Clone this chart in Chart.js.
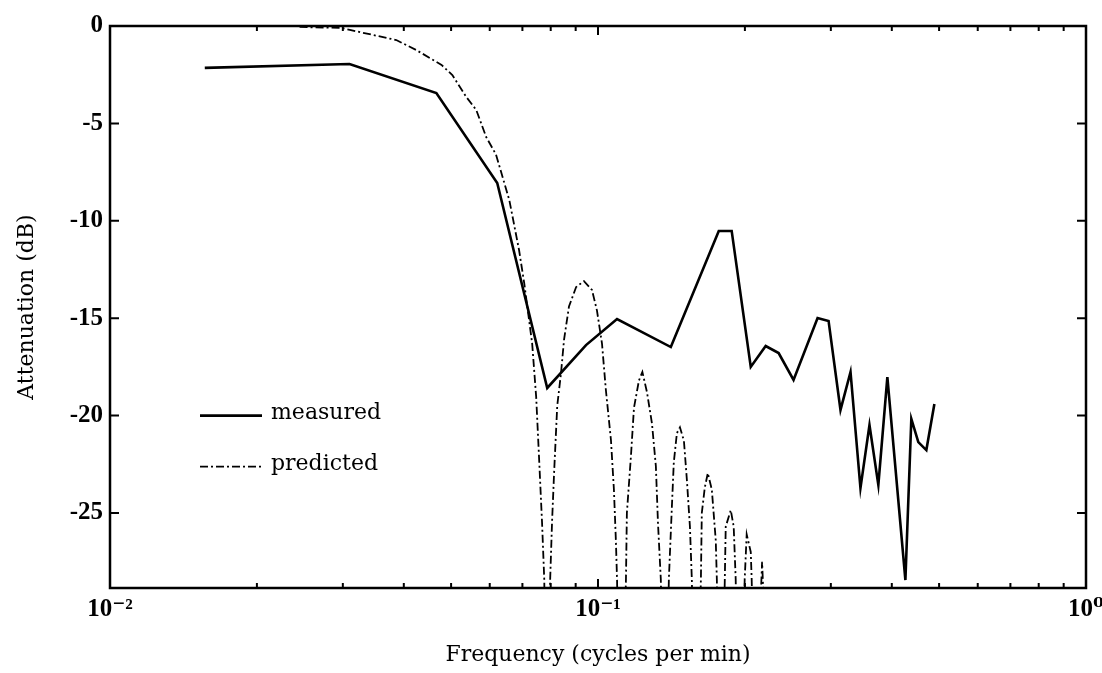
<!DOCTYPE html>
<html>
<head>
<meta charset="utf-8">
<script src="https://cdn.jsdelivr.net/npm/chart.js@4.4.1/dist/chart.umd.min.js"></script>
<style>
  html, body { margin: 0; padding: 0; background: #ffffff; }
  #wrap { width: 1102px; height: 673px; position: relative; }
</style>
</head>
<body>
<div id="wrap"><canvas id="c" width="1102" height="673"></canvas></div>
<script>
// ---- data ----
const measuredFreq = [0.01564, 0.03096, 0.04664, 0.06216, 0.0787, 0.0945, 0.1094, 0.141, 0.1768, 0.1879, 0.2056, 0.2206, 0.2345, 0.2516, 0.2818, 0.2968, 0.314, 0.3292, 0.345, 0.36, 0.3754, 0.3917, 0.4265, 0.4386, 0.4533, 0.4708, 0.489];
const measuredDb = [-2.15, -1.95, -3.44, -8.06, -18.58, -16.38, -15.04, -16.48, -10.52, -10.52, -17.5, -16.43, -16.79, -18.17, -14.99, -15.14, -19.71, -17.76, -23.72, -20.48, -23.56, -18.02, -28.44, -20.17, -21.36, -21.77, -19.4];

const predictedFreq = [0.02446, 0.0298, 0.031, 0.0386, 0.0424, 0.0478, 0.0503, 0.0537, 0.0563, 0.059, 0.0618, 0.0658, 0.0689, 0.0706, 0.0733, 0.0747, 0.0757, 0.0768, 0.0776, 0.0787, 0.0798, 0.0805, 0.0813, 0.0825, 0.084, 0.0852, 0.0872, 0.0902, 0.0936, 0.0972, 0.0995, 0.1019, 0.1038, 0.1063, 0.1078, 0.1088, 0.1094, 0.1114, 0.1141, 0.1146, 0.1168, 0.1185, 0.1213, 0.1233, 0.126, 0.129, 0.1314, 0.1327, 0.1345, 0.1371, 0.1397, 0.1417, 0.143, 0.1451, 0.1472, 0.15, 0.1521, 0.1543, 0.1557, 0.1587, 0.1625, 0.1632, 0.1655, 0.1679, 0.1711, 0.1743, 0.1752, 0.1785, 0.1819, 0.1827, 0.1871, 0.1897, 0.1915, 0.1952, 0.1998, 0.2017, 0.2056, 0.2065, 0.2114, 0.2154, 0.2169, 0.2185];
const predictedDb = [-0.05, -0.1, -0.2, -0.72, -1.23, -2.0, -2.52, -3.64, -4.31, -5.7, -6.6, -8.93, -11.5, -13.2, -16.3, -19.05, -22.1, -25.5, -28.4, -40, -28.4, -25.5, -22.9, -19.5, -17.8, -16.1, -14.4, -13.4, -13.1, -13.55, -14.6, -16.3, -18.7, -21.25, -23.8, -26.4, -28.4, -40, -28.4, -25.0, -22.1, -19.6, -18.2, -17.76, -18.8, -20.4, -22.6, -25.5, -28.4, -40, -28.4, -24.7, -22.4, -20.9, -20.6, -21.3, -23.3, -25.7, -28.4, -40, -28.4, -25.0, -23.7, -22.95, -23.8, -26.4, -28.4, -40, -28.4, -25.7, -24.85, -25.7, -28.4, -40, -28.4, -26.1, -27.0, -28.4, -40, -29.5, -27.5, -29.5];

const xMajorTicks = [0.01, 0.1, 1];
const xMajorLabels = ['10\u207B\u00B2', '10\u207B\u00B9', '10\u2070'];
const xMinorTicks = [0.02, 0.03, 0.04, 0.05, 0.06, 0.07, 0.08, 0.09, 0.2, 0.3, 0.4, 0.5, 0.6, 0.7, 0.8, 0.9];
const yTicks = [0, -5, -10, -15, -20, -25];
const seriesNames = ['measured', 'predicted'];

const xMin = 0.01, xMax = 1, yMin = -28.85, yMax = 0;

// ---- plugins: frame, inward ticks, legend ----
const framePlugin = {
  id: 'frame',
  afterDatasetsDraw(chart) {
    const {ctx, chartArea: a, scales} = chart;
    const xs = scales.x, ys = scales.y;
    ctx.save();
    ctx.strokeStyle = '#000';
    ctx.lineWidth = 2.5;
    ctx.strokeRect(a.left, a.top, a.right - a.left, a.bottom - a.top);
    ctx.lineWidth = 2;
    ctx.beginPath();
    yTicks.forEach(v => {
      const y = ys.getPixelForValue(v);
      ctx.moveTo(a.left, y); ctx.lineTo(a.left + 9, y);
      ctx.moveTo(a.right, y); ctx.lineTo(a.right - 9, y);
    });
    xMajorTicks.forEach(v => {
      const x = xs.getPixelForValue(v);
      ctx.moveTo(x, a.bottom); ctx.lineTo(x, a.bottom - 9);
      ctx.moveTo(x, a.top); ctx.lineTo(x, a.top + 9);
    });
    xMinorTicks.forEach(v => {
      const x = xs.getPixelForValue(v);
      ctx.moveTo(x, a.bottom); ctx.lineTo(x, a.bottom - 5);
      ctx.moveTo(x, a.top); ctx.lineTo(x, a.top + 5);
    });
    ctx.stroke();

    // legend
    const lx = a.left + 90, ly0 = ys.getPixelForValue(-20), gap = 51;
    chart.data.datasets.forEach((ds, i) => {
      const y = ly0 + i * gap;
      ctx.beginPath();
      ctx.strokeStyle = ds.borderColor;
      ctx.lineWidth = ds.borderWidth;
      ctx.setLineDash(ds.borderDash || []);
      ctx.moveTo(lx, y); ctx.lineTo(lx + 62, y);
      ctx.stroke();
      ctx.setLineDash([]);
      ctx.fillStyle = '#000';
      ctx.font = '22px "DejaVu Serif", "Liberation Serif", serif';
      ctx.textBaseline = 'middle';
      ctx.textAlign = 'left';
      ctx.fillText(ds.label, lx + 71, y - 2);
    });
    ctx.restore();
  }
};

const tickFont = {family: '"Liberation Serif", "DejaVu Serif", serif', size: 25, weight: 'bold'};
const titleFont = {family: '"DejaVu Serif", "Liberation Serif", serif', size: 22};

new Chart(document.getElementById('c'), {
  type: 'line',
  data: {
    datasets: [
      {
        label: seriesNames[0],
        data: measuredFreq.map((f, i) => ({x: f, y: measuredDb[i]})),
        borderColor: '#000',
        borderWidth: 2.6,
        pointRadius: 0,
        tension: 0,
        fill: false
      },
      {
        label: seriesNames[1],
        data: predictedFreq.map((f, i) => ({x: f, y: predictedDb[i]})),
        borderColor: '#000',
        borderWidth: 1.8,
        borderDash: [8, 3, 2, 3],
        pointRadius: 0,
        tension: 0,
        fill: false
      }
    ]
  },
  options: {
    responsive: false,
    animation: false,
    devicePixelRatio: 1,
    layout: {padding: {top: 26, right: 16, left: 0, bottom: 0}},
    plugins: {legend: {display: false}, tooltip: {enabled: false}},
    scales: {
      x: {
        type: 'logarithmic',
        min: xMin, max: xMax,
        grid: {display: false, drawTicks: false},
        border: {display: false},
        afterBuildTicks(scale) { scale.ticks = xMajorTicks.map(v => ({value: v})); },
        afterFit(scale) { scale.height = 85; scale.paddingLeft = 0; scale.paddingRight = 0; },
        ticks: {
          autoSkip: false, maxRotation: 0, minRotation: 0, padding: 7,
          color: '#000', font: tickFont,
          callback(v) { const i = xMajorTicks.indexOf(v); return i >= 0 ? xMajorLabels[i] : ''; }
        },
        title: {display: true, text: 'Frequency (cycles per min)', color: '#000', font: titleFont, padding: {top: 0, bottom: 5}}
      },
      y: {
        type: 'linear',
        min: yMin, max: yMax,
        grid: {display: false, drawTicks: false},
        border: {display: false},
        afterBuildTicks(scale) { scale.ticks = yTicks.map(v => ({value: v})); },
        afterFit(scale) { scale.width = 110; scale.paddingTop = 0; scale.paddingBottom = 0; },
        ticks: {
          autoSkip: false, padding: 7, color: '#000', font: tickFont,
          callback(v) { return String(v); }
        },
        title: {display: true, text: 'Attenuation (dB)', color: '#000', font: titleFont, padding: {top: 14, bottom: 0}}
      }
    }
  },
  plugins: [framePlugin]
});
</script>
</body>
</html>
